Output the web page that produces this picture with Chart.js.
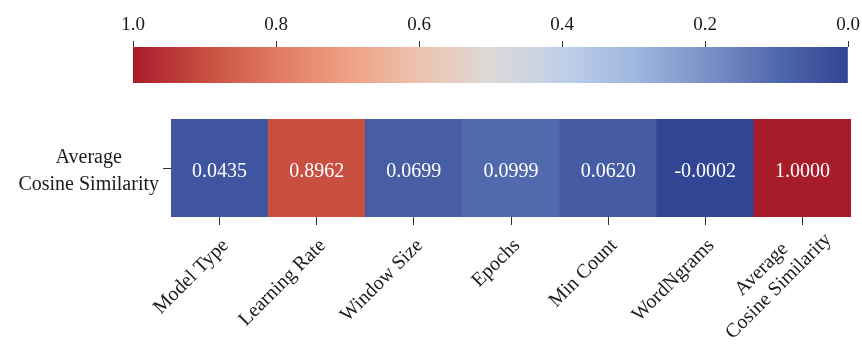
<!DOCTYPE html>
<html>
<head>
<meta charset="utf-8">
<script src="https://cdn.jsdelivr.net/npm/chart.js@4/dist/chart.umd.min.js"></script>
<style>
  html, body { margin: 0; padding: 0; background: #ffffff; }
  #wrap { position: relative; width: 862px; height: 344px; }
  #wrap canvas { position: absolute; left: 0; top: 0; }
</style>
</head>
<body>
<div id="wrap">
  <canvas id="colorbar" width="862" height="344"></canvas>
  <canvas id="heatmap" width="862" height="344"></canvas>
</div>
<script>
// Parameters compared against the average cosine similarity
const categories = ['Model Type', 'Learning Rate', 'Window Size', 'Epochs', 'Min Count', 'WordNgrams', ['Average', 'Cosine Similarity']];
const rowLabel = ['Average', 'Cosine Similarity'];
const similarity = [0.0435, 0.8962, 0.0699, 0.0999, 0.0620, -0.0002, 1.0000];
const colorbarTicks = [0, 0.2, 0.4, 0.6, 0.8, 1.0];

// Diverging blue–white–red palette (0 = blue, 1 = red)
const palette = [
  [0.0, '#314594'], [0.1, '#5169ad'], [0.2, '#7b93c8'], [0.3, '#a0b8df'],
  [0.4, '#bfcfe8'], [0.5, '#dcdad8'], [0.6, '#edc2ac'], [0.7, '#eea085'],
  [0.8, '#e07a60'], [0.9, '#c84d40'], [1.0, '#a81c2a']
];

function hexToRgb(h) {
  return [parseInt(h.slice(1, 3), 16), parseInt(h.slice(3, 5), 16), parseInt(h.slice(5, 7), 16)];
}
function colorFor(v) {
  const t = Math.max(0, Math.min(1, v));
  for (let i = 1; i < palette.length; i++) {
    if (t <= palette[i][0]) {
      const [t0, c0] = palette[i - 1];
      const [t1, c1] = palette[i];
      const f = (t - t0) / (t1 - t0);
      const a = hexToRgb(c0), b = hexToRgb(c1);
      const rgb = a.map((x, k) => Math.round(x + (b[k] - x) * f));
      return `rgb(${rgb[0]},${rgb[1]},${rgb[2]})`;
    }
  }
  return palette[palette.length - 1][1];
}

const serif = "'Liberation Serif', 'Times New Roman', serif";
const textColor = '#1a1a1a';
const tickColor = '#333333';

// Colour bar (value 1.0 on the left, 0.0 on the right)
new Chart(document.getElementById('colorbar'), {
  type: 'bar',
  data: {
    labels: [''],
    datasets: [{
      data: [[0, 1]],
      borderWidth: 0,
      barPercentage: 1,
      categoryPercentage: 1,
      backgroundColor: (ctx) => {
        const chart = ctx.chart;
        const area = chart.chartArea;
        if (!area) return palette[0][1];
        const x = chart.scales.x;
        const x0 = x.getPixelForValue(0), x1 = x.getPixelForValue(1);
        const g = chart.ctx.createLinearGradient(x0, 0, x1, 0);
        palette.forEach(([t, c]) => g.addColorStop(t, c));
        return g;
      }
    }]
  },
  options: {
    indexAxis: 'y',
    responsive: false,
    devicePixelRatio: 1,
    animation: false,
    layout: { padding: { left: 133, right: 14, top: 0, bottom: 261 } },
    plugins: { legend: { display: false }, tooltip: { enabled: false } },
    scales: {
      x: {
        type: 'linear',
        position: 'top',
        reverse: true,
        min: 0,
        max: 1,
        afterBuildTicks: (scale) => { scale.ticks = colorbarTicks.map(v => ({ value: v })); },
        afterFit: (scale) => { scale.height = 47; },
        ticks: {
          callback: (v) => Number(v).toFixed(1),
          font: { family: serif, size: 19 },
          color: textColor,
          padding: 5
        },
        grid: { display: true, drawOnChartArea: false, drawTicks: true, tickLength: 6, tickColor: tickColor, tickWidth: 1 },
        border: { display: false }
      },
      y: { display: false }
    }
  }
});

// Cell value annotations
const cellLabels = {
  id: 'cellLabels',
  afterDatasetsDraw(chart) {
    const ctx = chart.ctx;
    const meta = chart.getDatasetMeta(0);
    ctx.save();
    ctx.fillStyle = '#ffffff';
    ctx.font = `20px ${serif}`;
    ctx.textAlign = 'center';
    ctx.textBaseline = 'middle';
    meta.data.forEach((el, i) => {
      const cy = (el.y + el.base) / 2;
      ctx.fillText(similarity[i].toFixed(4), el.x, cy + 4);
    });
    ctx.restore();
  }
};

// Multi-line rotated category labels: centre the lines on each other and
// keep the block centred where a single-line label would sit.
const centredMultiline = {
  id: 'centredMultiline',
  beforeDraw(chart) {
    const scale = chart.scales.x;
    const items = scale.getLabelItems(chart.chartArea);
    items.forEach((item) => {
      if (!Array.isArray(item.label) || item.label._centred) return;
      const lh = item.font.lineHeight;
      const rot = item.options.rotation;       // negative (text rises to the right)
      const back = 52;                          // distance from label end to block centre
      const [tx, ty] = item.options.translation;
      item.options.translation = [tx - back * Math.cos(rot), ty - back * Math.sin(rot)];
      item.options.textAlign = 'center';
      item.textOffset = item.textOffset - lh * (item.label.length - 1) / 2 - 2;
      item.label._centred = true;
    });
  }
};

// Heatmap row: one cell per parameter, coloured by its similarity
new Chart(document.getElementById('heatmap'), {
  type: 'bar',
  data: {
    labels: categories,
    datasets: [{
      data: similarity.map(() => [0, 1]),
      backgroundColor: similarity.map(colorFor),
      borderWidth: 0,
      barPercentage: 1,
      categoryPercentage: 1
    }]
  },
  options: {
    responsive: false,
    devicePixelRatio: 1,
    animation: false,
    layout: { padding: { left: 0, right: 11, top: 119, bottom: 0 } },
    plugins: { legend: { display: false }, tooltip: { enabled: false } },
    scales: {
      x: {
        type: 'category',
        afterFit: (scale) => { scale.height = 127; },
        ticks: {
          font: { family: serif, size: 20 },
          color: textColor,
          minRotation: 45,
          maxRotation: 45,
          autoSkip: false,
          padding: 9,
          labelOffset: 6
        },
        grid: { display: true, offset: false, drawOnChartArea: false, drawTicks: true, tickLength: 8, tickColor: tickColor },
        border: { display: false }
      },
      y: {
        type: 'linear',
        min: 0,
        max: 1,
        afterBuildTicks: (scale) => { scale.ticks = [{ value: 0.5 }]; },
        afterFit: (scale) => { scale.width = 171; },
        ticks: {
          callback: () => rowLabel,
          font: { family: serif, size: 20, lineHeight: 1.35 },
          color: textColor,
          crossAlign: 'center',
          padding: 4,
          labelOffset: 3
        },
        grid: { display: true, drawOnChartArea: false, drawTicks: true, tickLength: 8, tickColor: tickColor },
        border: { display: false }
      }
    }
  },
  plugins: [cellLabels, centredMultiline]
});
</script>
</body>
</html>
